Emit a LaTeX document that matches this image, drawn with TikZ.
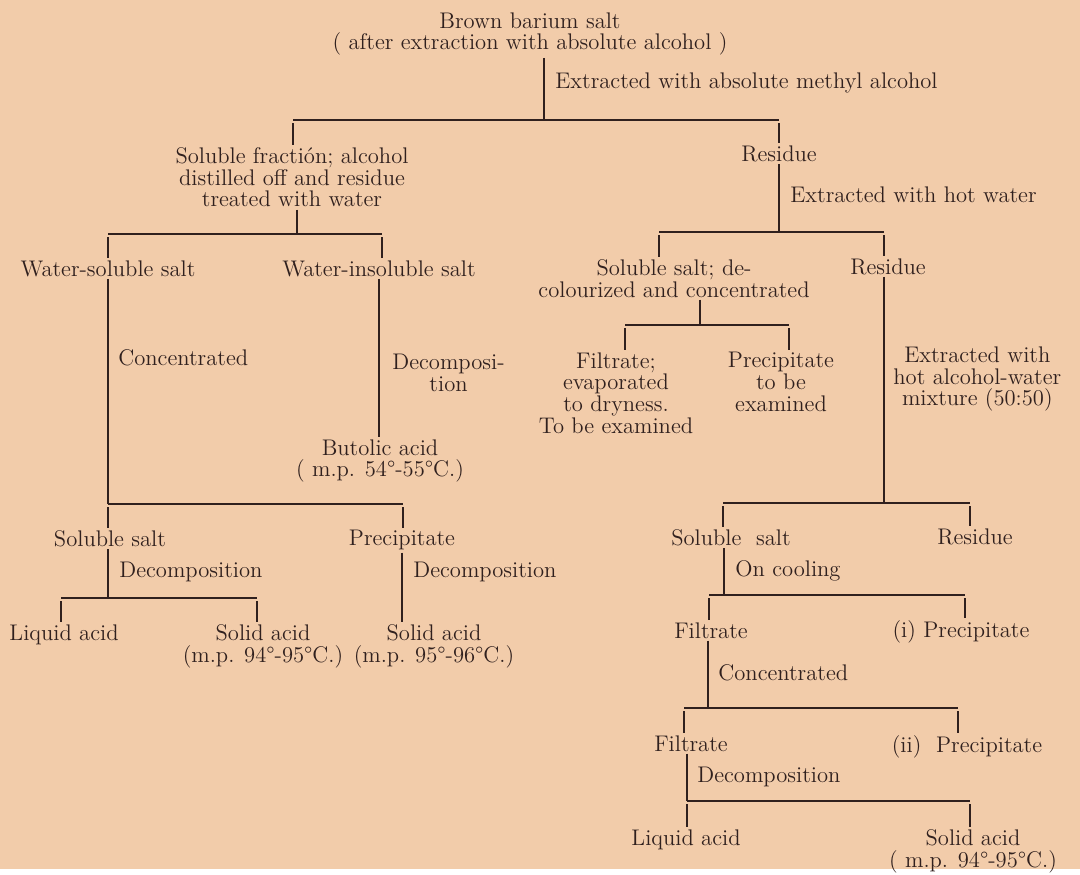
\documentclass[tikz,border=0pt]{standalone}
\usepackage{tikz}
\usepackage{xcolor}

\definecolor{paper}{RGB}{242,204,170}
\definecolor{ink}{RGB}{48,32,30}

\begin{document}
\begin{tikzpicture}[x=0.5pt, y=-0.5pt,
    txt/.style={anchor=north, align=center, inner sep=1pt, text=ink,
      font=\fontsize{11.3}{10.9}\selectfont},
    cmt/.style={txt, anchor=west},
    ln/.style={draw=ink, line width=0.7pt}]
    % Page
    \fill[paper] (0,0) rectangle (1080,869);

    % Products
    \node[txt] (top) at (530,10) {Brown barium salt\\( after extraction with absolute alcohol )};
    \node[txt] (frac) at (292,145) {Soluble fracti\'on; alcohol\\distilled off and residue\\treated with water};
    \node[txt] (res1) at (779,143) {Residue};
    \node[txt] (wsol) at (108,258) {Water-soluble salt};
    \node[txt] (winsol) at (379,258) {Water-insoluble salt};
    \node[txt] (solde) at (674,257) {Soluble salt; de-\\colourized and concentrated};
    \node[txt] (res2) at (888,256) {Residue};
    \node[txt] (filt1) at (616,350) {Filtrate;\\evaporated\\to dryness.\\To be examined};
    \node[txt] (prec1) at (781,350) {Precipitate\\to be\\examined};
    \node[txt] (butolic) at (380,437) {Butolic acid\\( m.p. 54°-55°C.)};
    \node[txt] (sol2) at (110,528) {Soluble salt};
    \node[txt] (prec2) at (402,528) {Precipitate};
    \node[txt] (liq1) at (64,622) {Liquid acid};
    \node[txt] (sol3) at (263,622) {Solid acid\\(m.p. 94°-95°C.)};
    \node[txt] (sol4) at (434,622) {Solid acid\\(m.p. 95°-96°C.)};
    \node[txt] (sol5) at (731,527) {Soluble\ \ salt};
    \node[txt] (res3) at (975,526) {Residue};
    \node[txt] (filt2) at (711,620) {Filtrate};
    \node[txt] (prec3) at (961,618) {(i) Precipitate};
    \node[txt] (filt3) at (691,733) {Filtrate};
    \node[txt] (prec4) at (967,733) {(ii)\ \ Precipitate};
    \node[txt] (liq2) at (686,827) {Liquid acid};
    \node[txt] (sol6) at (973,827) {Solid acid\\( m.p. 94°-95°C.)};

    % Treatments
    \node[cmt] (m1) at (553,83) {Extracted with absolute methyl alcohol};
    \node[cmt] (m2) at (788,195) {Extracted with hot water};
    \node[cmt] (m3) at (116,358) {Concentrated};
    \node[cmt] (m4) at (390,373) {Decomposi-\\tion};
    \node[cmt] (m5) at (891,379) {Extracted with\\hot alcohol-water\\mixture (50:50)};
    \node[cmt] (m6) at (117,572) {Decomposition};
    \node[cmt] (m7) at (411,572) {Decomposition};
    \node[cmt] (m8) at (733,571) {On cooling};
    \node[cmt] (m9) at (716,673) {Concentrated};
    \node[cmt] (m10) at (695,777) {Decomposition};

    % Bars
    \coordinate (j1) at (544,120);  \coordinate (b1l) at (293,120); \coordinate (b1r) at (779,120);
    \coordinate (j2) at (297,234);  \coordinate (b2l) at (108,234); \coordinate (b2r) at (382,234);
    \coordinate (j3) at (779,232);  \coordinate (b3l) at (659,232); \coordinate (b3r) at (884,232);
    \coordinate (j4) at (700,325);  \coordinate (b4l) at (625,325); \coordinate (b4r) at (789,325);
    \coordinate (b5l) at (108,504); \coordinate (b5r) at (403,504);
    \coordinate (j6) at (108,598);  \coordinate (b6l) at (61,598);  \coordinate (b6r) at (257,598);
    \coordinate (j7) at (884,503);  \coordinate (b7l) at (723,503); \coordinate (b7r) at (970,503);
    \coordinate (j8) at (724,595);  \coordinate (b8l) at (709,595); \coordinate (b8r) at (965,595);
    \coordinate (j9) at (708,708);  \coordinate (b9l) at (684,708); \coordinate (b9r) at (958,708);
    \coordinate (b10l) at (687,801); \coordinate (b10r) at (970,801);

    \foreach \b in {1,2,3,4,5,6,7,8,9,10}
        \draw[ln] (b\b l) -- (b\b r);

    % Stems
    \draw[ln] (top.south -| j1) -- (j1);
    \draw[ln] (frac.south -| j2) -- (j2);
    \draw[ln] (res1.south -| j3) -- (j3);
    \draw[ln] (solde.south -| j4) -- (j4);
    \draw[ln] (wsol.south -| b5l) -- (b5l);
    \draw[ln] (winsol.south) -- (winsol.south |- butolic.north);
    \draw[ln] (sol2.south -| j6) -- (j6);
    \draw[ln] (prec2.south) -- (prec2.south |- sol4.north);
    \draw[ln] (res2.south -| j7) -- (j7);
    \draw[ln] (sol5.south -| j8) -- (j8);
    \draw[ln] (filt2.south -| j9) -- (j9);
    \draw[ln] (filt3.south -| b10l) -- (b10l);

    % Ticks
    \foreach \b/\c in {b1l/frac, b1r/res1, b2l/wsol, b2r/winsol, b3l/solde, b3r/res2,
        b4l/filt1, b4r/prec1, b5l/sol2, b5r/prec2, b6l/liq1, b6r/sol3, b7l/sol5, b7r/res3,
        b8l/filt2, b8r/prec3, b9l/filt3, b9r/prec4, b10l/liq2, b10r/sol6}
        \draw[ln] ([yshift=-1.5pt]\b) -- (\c.north -| \b);
\end{tikzpicture}
\end{document}
